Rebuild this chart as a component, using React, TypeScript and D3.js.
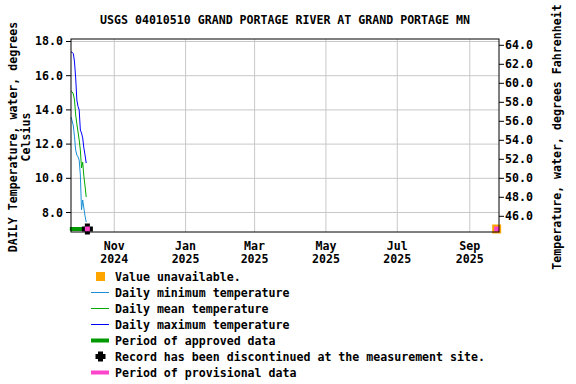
import React from "react";
import * as d3 from "d3";

const TITLE = "USGS 04010510 GRAND PORTAGE RIVER AT GRAND PORTAGE MN";
const startDate = "2024-09-25";
const dailyMax = [17.39, 17.36, 17.3, 16.8, 15.87, 14.58, 14.2, 14.0, 12.82, 12.65, 12.36, 11.77, 11.36, 10.89];
const dailyMean = [15.11, 15.05, 14.93, 14.58, 13.7, 13.18, 12.71, 12.24, 11.65, 10.6, 10.95, 10.13, 9.55, 8.91];
const dailyMin = [13.58, 13.35, 13.06, 12.42, 11.65, 11.36, 11.25, 11.07, 10.19, 8.15, 8.73, 8.26, 7.8, 7.44];
const approvedPeriod = ["2024-09-24", "2024-10-08"];
const discontinuedDate = "2024-10-09";
const unavailableDate = "2025-09-24";
const xTickDates = ["2024-11-01", "2025-01-01", "2025-03-01", "2025-05-01", "2025-07-01", "2025-09-01"];
const xTickMonth = ["Nov", "Jan", "Mar", "May", "Jul", "Sep"];
const xTickYear = ["2024", "2025", "2025", "2025", "2025", "2025"];
const cTicks = [8, 10, 12, 14, 16, 18];
const fTicks = [46, 48, 50, 52, 54, 56, 58, 60, 62, 64];
const legendItems = [
  "Value unavailable.",
  "Daily minimum temperature",
  "Daily mean temperature",
  "Daily maximum temperature",
  "Period of approved data",
  "Record has been discontinued at the measurement site.",
  "Period of provisional data",
];

const parse = (s: string) => d3.timeParse("%Y-%m-%d")(s) as Date;
const FONT = "'DejaVu Sans Mono', monospace";

const C_MIN = "#1a8fd6";
const C_MEAN = "#00aa00";
const C_MAX = "#0000ff";
const C_APPROVED = "#009900";
const C_PROV = "#ff44cc";
const C_UNAV = "#ffa500";

export default function App() {
  const W = 576, H = 384;
  const L = 71, R = 499, T = 39, B = 232;
  const x = d3.scaleTime().domain([parse("2024-09-25"), parse("2025-09-26")]).range([L, R]);
  const y = d3.scaleLinear().domain([6.86, 18.146]).range([B, T]);
  const toF = (c: number) => c * 9 / 5 + 32;
  const yF = d3.scaleLinear().domain([toF(6.86), toF(18.146)]).range([B, T]);

  const start = parse(startDate);
  const dates = dailyMax.map((_, i) => d3.timeDay.offset(start, i));
  const line = (vals: number[]) =>
    d3.line<number>().x((_, i) => x(dates[i])).y((v) => y(v))(vals) || "";

  const barY = 229;
  const dx = x(parse(discontinuedDate));
  const ux = x(parse(unavailableDate));

  const crossPath = (cx: number, cy: number, s: number, a: number) =>
    `M${cx - a},${cy - s}H${cx + a}V${cy - a}H${cx + s}V${cy + a}H${cx + a}V${cy + s}H${cx - a}V${cy + a}H${cx - s}V${cy - a}H${cx - a}Z`;

  const legX = 91, legTextX = 115, legY0 = 276.5, legDy = 16;

  return (
    <svg width={W} height={H} style={{ position: "absolute", left: 0, top: 0, background: "#fff" }} fontFamily={FONT}>
      <rect x={0} y={0} width={W} height={H} fill="#fff" />
      <text x={285} y={20} textAnchor="middle" dominantBaseline="central" fontSize={11.6} fontWeight="bold">{TITLE}</text>

      {/* grid */}
      {cTicks.map((t) => (
        <line key={"gy" + t} x1={L} x2={R} y1={y(t)} y2={y(t)} stroke="#c8c8c8" strokeWidth={1} />
      ))}
      {xTickDates.map((d) => (
        <line key={"gx" + d} x1={x(parse(d))} x2={x(parse(d))} y1={T} y2={B} stroke="#c8c8c8" strokeWidth={1} />
      ))}

      {/* data */}
      <path d={line(dailyMin)} fill="none" stroke={C_MIN} strokeWidth={1} />
      <path d={line(dailyMean)} fill="none" stroke={C_MEAN} strokeWidth={1} />
      <path d={line(dailyMax)} fill="none" stroke={C_MAX} strokeWidth={1} />

      {/* approved bar */}
      <line x1={x(parse(approvedPeriod[0]))} x2={x(parse(approvedPeriod[1]))} y1={barY} y2={barY} stroke={C_APPROVED} strokeWidth={4} />
      {/* discontinued marker */}
      <path d={crossPath(dx, barY, 5.5, 2.5)} fill="#000" />
      <rect x={dx - 2.5} y={barY - 2.5} width={5} height={5} fill={C_PROV} />
      {/* value unavailable */}
      <rect x={ux - 4.5} y={barY - 4.5} width={9} height={9} fill={C_UNAV} />
      <rect x={ux - 2.5} y={barY - 2.5} width={5} height={5} fill={C_PROV} />

      {/* frame */}
      <rect x={L} y={T} width={R - L} height={B - T} fill="none" stroke="#000" strokeWidth={1} />

      {/* left axis */}
      {cTicks.map((t) => (
        <g key={"lc" + t}>
          <line x1={L - 5} x2={L} y1={y(t)} y2={y(t)} stroke="#000" />
          <text x={63} y={y(t)} textAnchor="end" dominantBaseline="central" fontSize={11.6} fontWeight="bold">{t.toFixed(1)}</text>
        </g>
      ))}
      {/* right axis */}
      {fTicks.map((t) => (
        <g key={"rf" + t}>
          <line x1={R} x2={R + 5} y1={yF(t)} y2={yF(t)} stroke="#000" />
          <text x={505} y={yF(t)} textAnchor="start" dominantBaseline="central" fontSize={11.6} fontWeight="bold">{t.toFixed(1)}</text>
        </g>
      ))}
      {/* x axis labels */}
      {xTickDates.map((d, i) => (
        <g key={"xl" + d}>
          <text x={x(parse(d))} y={246} textAnchor="middle" dominantBaseline="central" fontSize={11.6} fontWeight="bold">{xTickMonth[i]}</text>
          <text x={x(parse(d))} y={259} textAnchor="middle" dominantBaseline="central" fontSize={11.6} fontWeight="bold">{xTickYear[i]}</text>
        </g>
      ))}

      {/* axis titles */}
      <text transform={`translate(13,137) rotate(-90)`} textAnchor="middle" dominantBaseline="central" fontSize={11.6} fontWeight="bold">DAILY Temperature, water, degrees</text>
      <text transform={`translate(26,137) rotate(-90)`} textAnchor="middle" dominantBaseline="central" fontSize={11.6} fontWeight="bold">Celsius</text>
      <text transform={`translate(557,137) rotate(-90)`} textAnchor="middle" dominantBaseline="central" fontSize={11.6} fontWeight="bold">Temperature, water, degrees Fahrenheit</text>

      {/* legend */}
      {legendItems.map((label, i) => {
        const cy = legY0 + i * legDy;
        let sym: React.ReactNode = null;
        if (i === 0) sym = <rect x={96} y={cy - 4.5} width={9} height={9} fill={C_UNAV} />;
        else if (i === 1) sym = <line x1={legX} x2={109} y1={cy} y2={cy} stroke={C_MIN} strokeWidth={1} />;
        else if (i === 2) sym = <line x1={legX} x2={109} y1={cy} y2={cy} stroke={C_MEAN} strokeWidth={1} />;
        else if (i === 3) sym = <line x1={legX} x2={109} y1={cy} y2={cy} stroke={C_MAX} strokeWidth={1} />;
        else if (i === 4) sym = <line x1={legX} x2={109} y1={cy} y2={cy} stroke={C_APPROVED} strokeWidth={4} />;
        else if (i === 5) sym = <path d={crossPath(100.5, cy, 5, 2.5)} fill="#000" />;
        else sym = <line x1={legX} x2={109} y1={cy} y2={cy} stroke={C_PROV} strokeWidth={4} />;
        return (
          <g key={"lg" + i}>
            {sym}
            <text x={legTextX} y={cy} dominantBaseline="central" fontSize={11.6} fontWeight="bold">{label}</text>
          </g>
        );
      })}
    </svg>
  );
}
